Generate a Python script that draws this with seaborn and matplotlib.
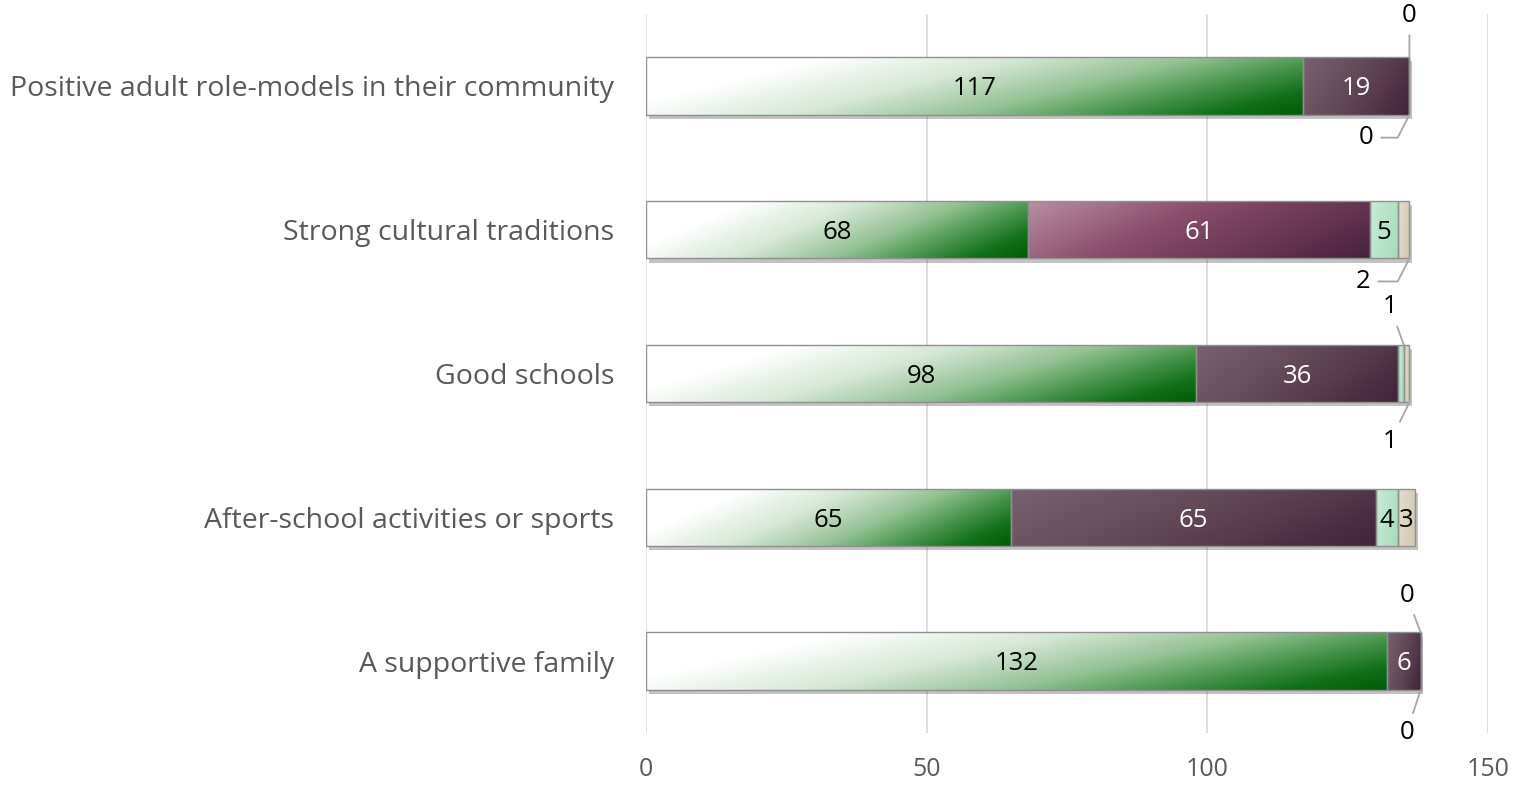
import numpy as np
import pandas as pd
import matplotlib
matplotlib.use("Agg")
import matplotlib.pyplot as plt
import matplotlib.patheffects as pe
from matplotlib.colors import LinearSegmentedColormap
from matplotlib.patches import Rectangle
import seaborn as sns

# ---------------- data ----------------
categories = [
    "Positive adult role-models in their community",
    "Strong cultural traditions",
    "Good schools",
    "After-school activities or sports",
    "A supportive family",
]
series_names = ["Green", "Purple", "Mint", "Beige"]
green_values = [117, 68, 98, 65, 132]
purple_values = [19, 61, 36, 65, 6]
mint_values = [0, 5, 1, 4, 0]
beige_values = [0, 2, 1, 3, 0]
x_ticks = [0, 50, 100, 150]

# ---------------- style ----------------
cmap_green = LinearSegmentedColormap.from_list("g", [
    (0.0, "#ffffff"), (0.2, "#ffffff"), (0.42, "#d6e9d6"),
    (0.62, "#94c294"), (0.78, "#44924a"), (0.9, "#0f7017"), (1.0, "#005c08")])
cmap_plum = LinearSegmentedColormap.from_list("p", [
    (0.0, "#7a6170"), (0.5, "#624656"), (1.0, "#42233a")])
cmap_magenta = LinearSegmentedColormap.from_list("m", [
    (0.0, "#b98fa5"), (0.4, "#8a4c6b"), (1.0, "#48223e")])
cmap_mint = LinearSegmentedColormap.from_list("mi", ["#c8ecd6", "#a6dbbb"])
cmap_beige = LinearSegmentedColormap.from_list("b", ["#e6dfcf", "#d1c7ad"])
series_cmaps = [cmap_green, cmap_plum, cmap_mint, cmap_beige]
purple_cmap_per_cat = [cmap_plum, cmap_magenta, cmap_plum, cmap_plum, cmap_plum]
label_colors = ["black", "white", "black", "black"]

# outside labels: (series idx, category idx, text offset in px, connection style)
outside_labels = [
    (2, 0, (0, 42), "arc3"),
    (3, 0, (-43, -23), "angle,angleA=0,angleB=63,rad=0"),
    (3, 1, (-46, -23), "angle,angleA=0,angleB=63,rad=0"),
    (2, 2, (-14, 38), "arc3"),
    (3, 2, (-19, -39), "arc3"),
    (2, 4, (-14, 37), "arc3"),
    (3, 4, (-14, -43), "arc3"),
]

BAR_W = 0.40
FS_DATA = 18.5
FS_CAT = 20.5
FS_TICK = 18

sns.set_theme(style="white")
plt.rcParams['font.family'] = ['Open Sans', 'DejaVu Sans']

fig = plt.figure(figsize=(15.25, 7.86), dpi=100)
ax = fig.add_axes([646 / 1525, 1 - 733 / 786, (1488 - 646) / 1525, (733 - 14) / 786])

all_values = [green_values, purple_values, mint_values, beige_values]
left = np.zeros(len(categories))
for si, vals in enumerate(all_values):
    df = pd.DataFrame({"category": categories, "value": vals})
    sns.barplot(data=df, x="value", y="category", order=categories, orient="h",
                left=left.copy(), width=BAR_W, color="white", edgecolor="#8f8f8f",
                linewidth=1.0, errorbar=None, ax=ax)
    left = left + np.array(vals, dtype=float)

ax.set_xlim(0, 150)
ax.set_ylim(len(categories) - 0.5, -0.5)


def gradient_fill(patch, cmap, vw=0.35):
    x0, y0 = patch.get_x(), patch.get_y()
    w, h = patch.get_width(), patch.get_height()
    if w <= 0:
        return
    u = np.linspace(0, 1, 500)[None, :]
    v = np.linspace(0, 1, 60)[:, None]
    t = np.clip((u + vw * v) / (1 + vw), 0, 1)
    im = ax.imshow(t, cmap=cmap, vmin=0, vmax=1, extent=(x0, x0 + w, y0 + h, y0),
                   origin="upper", aspect="auto", interpolation="bilinear", zorder=1.2)
    im.set_clip_path(patch)
    sh = Rectangle((x0, y0), w, h, transform=ax.transData, facecolor="none",
                   edgecolor="none", zorder=1.0)
    sh.set_path_effects([pe.SimplePatchShadow(offset=(2, -3), shadow_rgbFace="#555555", alpha=0.35)])
    ax.add_patch(sh)


for si, cont in enumerate(ax.containers):
    for ci, patch in enumerate(cont.patches):
        cmap = purple_cmap_per_cat[ci] if si == 1 else series_cmaps[si]
        gradient_fill(patch, cmap)
        patch.set_facecolor("none")
        patch.set_zorder(1.4)
        val = all_values[si][ci]
        if val >= 3:
            ax.text(patch.get_x() + patch.get_width() / 2, ci + 0.02, f"{val}",
                    ha="center", va="center", fontsize=FS_DATA, color=label_colors[si], zorder=3)

# outside labels with leader lines
cum = np.cumsum(np.array(all_values, dtype=float), axis=0)
for si, ci, (dx, dy), conn in outside_labels:
    xend = cum[si][ci]
    yedge = ci - BAR_W / 2 if dy > 0 else ci + BAR_W / 2
    ax.annotate(f"{all_values[si][ci]}", xy=(xend, yedge), xycoords="data",
                xytext=(dx, dy), textcoords="offset pixels", ha="center", va="center",
                fontsize=FS_DATA, color="black", zorder=3, annotation_clip=False,
                arrowprops=dict(arrowstyle="-", color="#a6a6a6", lw=1.3,
                                connectionstyle=conn, shrinkA=3, shrinkB=0))

ax.set_xticks(x_ticks)
ax.set_xticklabels([str(t) for t in x_ticks])
ax.grid(axis="x", color="#d9d9d9", linewidth=1.2)
ax.set_axisbelow(True)
for s in ax.spines.values():
    s.set_visible(False)
ax.tick_params(axis="x", length=0, pad=17, labelsize=FS_TICK, labelcolor="#595959")
ax.tick_params(axis="y", length=0, pad=23, labelsize=FS_CAT, labelcolor="#595959")
ax.set_xlabel("")
ax.set_ylabel("")

fig.savefig("out.png", dpi=100)
